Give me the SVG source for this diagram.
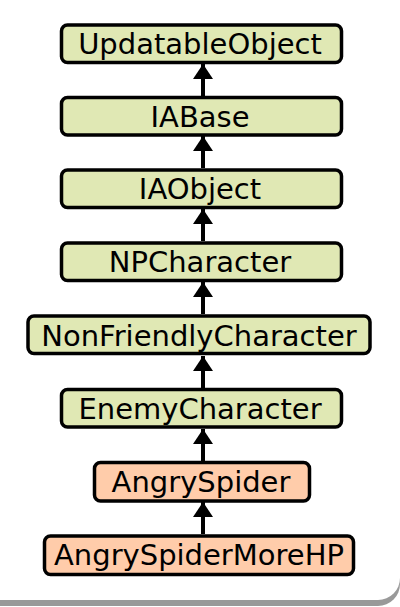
<svg xmlns="http://www.w3.org/2000/svg" width="400" height="607" viewBox="0 0 400 607">
<defs>
<style>
.n rect{stroke:#000;stroke-width:3.5}
.g rect{fill:#e0e8b4}
.o rect{fill:#ffccaa}
text{font-family:"DejaVu Sans",sans-serif;font-size:29px;text-anchor:middle;fill:#000}
.e line{stroke:#000;stroke-width:4}
</style>
<marker id="ah" markerUnits="userSpaceOnUse" markerWidth="16" markerHeight="22" refX="15" refY="10" orient="auto">
<path d="M0,0 L15,10 L0,20 Z" fill="#000"/>
</marker>
</defs>
<rect x="-20" y="-14" width="420" height="620" rx="22" fill="#999"/>
<rect x="-20" y="-20" width="420" height="620" rx="22" fill="#fff"/>
<g id="edges" class="e">
<line x1="203" y1="96" x2="203" y2="64" marker-end="url(#ah)"/>
<line x1="203" y1="168" x2="203" y2="136" marker-end="url(#ah)"/>
<line x1="203" y1="241" x2="203" y2="209" marker-end="url(#ah)"/>
<line x1="203" y1="314" x2="203" y2="282" marker-end="url(#ah)"/>
<line x1="203" y1="388" x2="203" y2="356" marker-end="url(#ah)"/>
<line x1="203" y1="461" x2="203" y2="429" marker-end="url(#ah)"/>
<line x1="203" y1="534" x2="203" y2="502" marker-end="url(#ah)"/>
</g>
<g id="UpdatableObject" class="n g"><rect x="61.5" y="25" width="280" height="37.5" rx="6"/><text x="200" y="54">UpdatableObject</text></g>
<g id="IABase" class="n g"><rect x="61.5" y="97.5" width="280" height="37.5" rx="6"/><text x="200" y="126.5">IABase</text></g>
<g id="IAObject" class="n g"><rect x="61.5" y="170" width="280" height="37.5" rx="6"/><text x="200" y="199">IAObject</text></g>
<g id="NPCharacter" class="n g"><rect x="61.5" y="243" width="280" height="37.5" rx="6"/><text x="200" y="272">NPCharacter</text></g>
<g id="NonFriendlyCharacter" class="n g"><rect x="28" y="316" width="342" height="37.5" rx="6"/><text x="199" y="345.5">NonFriendlyCharacter</text></g>
<g id="EnemyCharacter" class="n g"><rect x="61.5" y="389.5" width="280" height="37.5" rx="6"/><text x="200" y="419">EnemyCharacter</text></g>
<g id="AngrySpider" class="n o"><rect x="94.5" y="462.5" width="215" height="38.5" rx="6"/><text x="201" y="492">AngrySpider</text></g>
<g id="AngrySpiderMoreHP" class="n o"><rect x="44.5" y="536" width="309" height="38.5" rx="6"/><text x="199" y="565">AngrySpiderMoreHP</text></g>
</svg>
